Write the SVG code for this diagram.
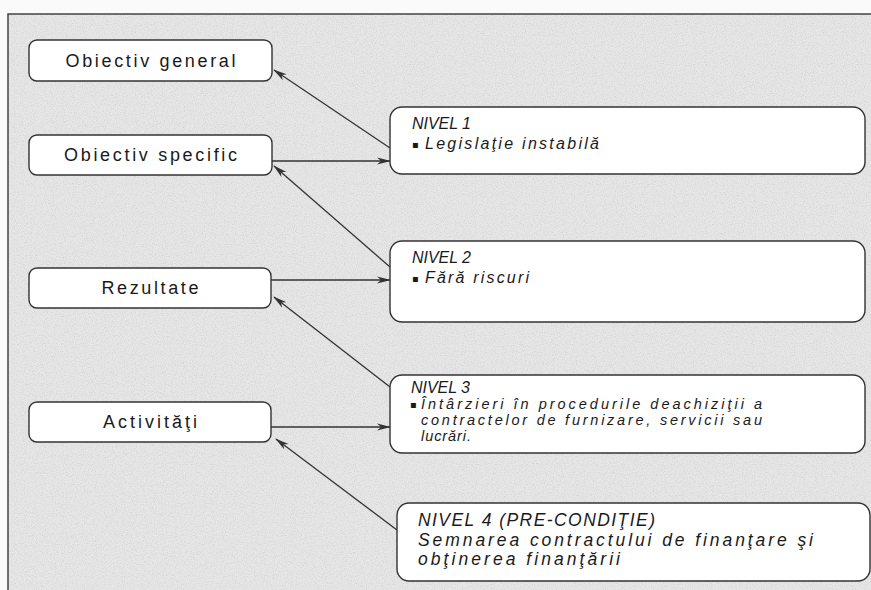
<svg xmlns="http://www.w3.org/2000/svg" width="871" height="590" viewBox="0 0 871 590">
<style>
.box{fill:#ffffff;stroke:#333;stroke-width:1.4}
.lt{font-family:"Liberation Sans",Arial,sans-serif;font-size:18px;fill:#1a1a1a;text-anchor:middle}
.rt{font-family:"Liberation Sans",Arial,sans-serif;font-style:italic;font-size:16px;fill:#1a1a1a}
.r3{font-size:14.5px}
.r4{font-size:17.5px}
.bul{font-family:"DejaVu Sans",sans-serif;font-style:normal;font-size:10px}
.con line{stroke:#333;stroke-width:1.3;marker-end:url(#ah)}
</style>
<defs>
<marker id="ah" viewBox="0 0 14 8" refX="13" refY="4" markerWidth="14" markerHeight="8" markerUnits="userSpaceOnUse" orient="auto">
<path d="M0,0.5 L14,4 L0,7.5 L4,4 z" fill="#333"/>
</marker>
<filter id="grain" x="0" y="0" width="100%" height="100%">
<feTurbulence type="fractalNoise" baseFrequency="0.9" numOctaves="2" seed="3"/>
<feColorMatrix type="matrix" values="0 0 0 0 0.5  0 0 0 0 0.5  0 0 0 0 0.5  0 0 0 -2 1.1"/>
</filter>
</defs>
<rect x="0" y="0" width="871" height="590" fill="#fafafa"/>
<rect x="8" y="14" width="870" height="590" fill="#e6e6e6"/>
<rect x="8" y="14" width="870" height="590" filter="url(#grain)" opacity="0.5"/>
<rect x="8" y="14" width="870" height="590" fill="none" stroke="#444" stroke-width="1.5"/>
<g class="con">
<line x1="390" y1="148" x2="274" y2="70"/>
<line x1="272" y1="161" x2="390" y2="161"/>
<line x1="390" y1="267" x2="274" y2="166"/>
<line x1="271" y1="280" x2="390" y2="280"/>
<line x1="390" y1="387" x2="274" y2="297"/>
<line x1="271" y1="427" x2="390" y2="427"/>
<line x1="397" y1="530" x2="276" y2="439"/>
</g>
<g id="obiectiv-general">
<rect class="box" x="29" y="40" width="243" height="41" rx="8"/>
<text class="lt" x="150.5" y="67" textLength="170" lengthAdjust="spacing">Obiectiv general</text>
</g>
<g id="obiectiv-specific">
<rect class="box" x="29" y="135" width="243" height="40" rx="8"/>
<text class="lt" x="150.5" y="161" textLength="173" lengthAdjust="spacing">Obiectiv specific</text>
</g>
<g id="rezultate">
<rect class="box" x="29" y="268" width="242" height="40" rx="8"/>
<text class="lt" x="150" y="294" textLength="97" lengthAdjust="spacing">Rezultate</text>
</g>
<g id="activitati">
<rect class="box" x="29" y="402" width="242" height="40" rx="8"/>
<text class="lt" x="150" y="428" textLength="94" lengthAdjust="spacing">Activităţi</text>
</g>
<g id="nivel-1">
<rect class="box" x="390" y="107" width="475" height="67" rx="12"/>
<text class="rt" x="412" y="129" textLength="59" lengthAdjust="spacing">NIVEL 1</text>
<text class="rt bul" x="412" y="148">▪</text>
<text class="rt" x="425" y="149" textLength="174" lengthAdjust="spacing">Legislaţie instabilă</text>
</g>
<g id="nivel-2">
<rect class="box" x="390" y="241" width="475" height="81" rx="12"/>
<text class="rt" x="412" y="263" textLength="59" lengthAdjust="spacing">NIVEL 2</text>
<text class="rt bul" x="412" y="282">▪</text>
<text class="rt" x="425" y="283" textLength="104" lengthAdjust="spacing">Fără riscuri</text>
</g>
<g id="nivel-3">
<rect class="box" x="390" y="375" width="475" height="78" rx="12"/>
<text class="rt" x="411" y="393" font-size="15" textLength="59" lengthAdjust="spacing">NIVEL 3</text>
<text class="rt bul" x="410" y="408">▪</text>
<text class="rt r3" x="421" y="409" textLength="341" lengthAdjust="spacing">Întârzieri în procedurile deachiziţii a</text>
<text class="rt r3" x="421" y="425" textLength="341" lengthAdjust="spacing">contractelor de furnizare, servicii sau</text>
<text class="rt r3" x="421" y="441" textLength="50" lengthAdjust="spacing">lucrări.</text>
</g>
<g id="nivel-4">
<rect class="box" x="397" y="503" width="473" height="78" rx="12"/>
<text class="rt r4" x="418" y="526" textLength="237" lengthAdjust="spacing">NIVEL 4 (PRE-CONDIŢIE)</text>
<text class="rt r4" x="418" y="546" textLength="395" lengthAdjust="spacing">Semnarea contractului de finanţare şi</text>
<text class="rt r4" x="418" y="565" textLength="202" lengthAdjust="spacing">obţinerea finanţării</text>
</g>
</svg>
